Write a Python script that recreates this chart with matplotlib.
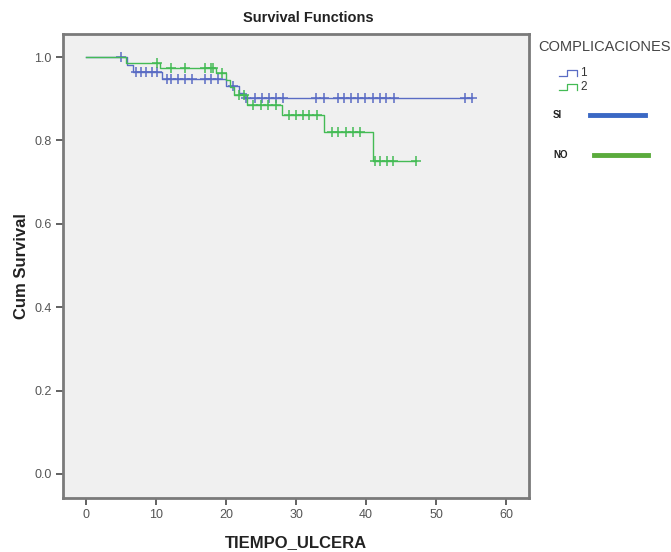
import numpy as np
import matplotlib
matplotlib.use("Agg")
import matplotlib.pyplot as plt
from matplotlib.lines import Line2D

plt.rcParams['font.family'] = ['Liberation Sans', 'DejaVu Sans']

# ---- data ----
blue_event_times = [5.8, 6.7, 10.8, 20.0, 21.8, 22.6]
blue_surv = [0.982, 0.964, 0.947, 0.930, 0.914, 0.901]
blue_censor_times = [5.0, 7.2, 7.9, 8.6, 9.4, 10.1, 11.5, 12.2, 13.2, 14.1, 15.1, 17.0,
                     17.9, 18.9, 21.0, 22.9, 24.1, 25.1, 26.1, 27.1, 28.1, 32.9, 34.0,
                     36.0, 36.9, 37.9, 38.9, 39.9, 41.0, 42.0, 42.9, 44.0, 54.1, 55.1]

green_event_times = [5.7, 10.5, 18.6, 20.0, 20.6, 21.2, 23.0, 28.0, 34.0, 41.0]
green_surv = [0.986, 0.974, 0.961, 0.945, 0.927, 0.909, 0.885, 0.861, 0.819, 0.751]
green_censor_times = [10.1, 12.2, 14.1, 17.0, 17.9, 18.2, 19.4, 21.8, 22.5, 23.8, 25.0,
                      26.0, 27.1, 29.0, 30.0, 31.0, 31.9, 33.0, 35.1, 36.0, 37.1, 38.1,
                      39.1, 41.3, 42.0, 43.0, 43.9, 47.1]

x_ticks = [0, 10, 20, 30, 40, 50, 60]
y_ticks = [0.0, 0.2, 0.4, 0.6, 0.8, 1.0]
legend_title = "COMPLICACIONES"
group_labels = ["1", "2"]
group_names = ["SI", "NO"]

blue_c = '#5a6cc4'
green_c = '#44bb55'


def surv_at(t, times, surv):
    s = 1.0
    for ti, si in zip(times, surv):
        if t >= ti:
            s = si
    return s


fig = plt.figure(figsize=(6.71, 5.52), dpi=100)
fig.patch.set_facecolor('white')
ax = fig.add_axes([63/671, 1-498/552, (529-63)/671, (498-34)/552])
ax.set_facecolor('#f0f0f0')

for times, surv, ctimes, col in [
        (blue_event_times, blue_surv, blue_censor_times, blue_c),
        (green_event_times, green_surv, green_censor_times, green_c)]:
    tmax = max(ctimes)
    xs = [0] + list(times) + [tmax]
    ys = [1.0] + list(surv) + [surv[-1]]
    ax.step(xs, ys, where='post', color=col, lw=1.0)
    cy = [surv_at(t, times, surv) for t in ctimes]
    ax.plot(ctimes, cy, linestyle='none', marker='+', color=col,
            markersize=7, markeredgewidth=1.1)

ax.set_xlim((63-86)/7.0, (529-86)/7.0)
ax.set_ylim((474-498)/417, 1 + (57-34)/417)
ax.set_xticks(x_ticks)
ax.set_yticks(y_ticks)
ax.set_xticklabels([str(v) for v in x_ticks])
ax.set_yticklabels([f"{v:.1f}" for v in y_ticks])
ax.tick_params(axis='both', direction='out', length=5, width=1.3, color='#555555',
               labelsize=9, labelcolor='#555555', pad=3)
for sp in ax.spines.values():
    sp.set_color('#7a7a7a')
    sp.set_linewidth(2.0)

ax.set_xlabel("TIEMPO_ULCERA", fontsize=12, fontweight='bold', color='#222222', labelpad=10)
ax.set_ylabel("Cum Survival", fontsize=12, fontweight='bold', color='#222222', labelpad=4)
fig.text(308/671, 1-18/552, "Survival Functions", ha='center', va='center',
         fontsize=10.5, fontweight='bold', color='#222222')

# ---- legend ----
fig.text(538/671, 1-47/552, legend_title, ha='left', va='center', fontsize=10.5, color='#444444')
for i, (lab, col) in enumerate(zip(group_labels, [blue_c, green_c])):
    yc = 1 - (73 + 14*i)/552
    dy = 3/552
    xs = np.array([559, 567, 567, 577, 577]) / 671
    ys = np.array([yc - dy, yc - dy, yc + dy, yc + dy, yc - dy])
    fig.add_artist(Line2D(xs, ys, color=col, lw=0.9, transform=fig.transFigure))
    fig.text(580/671, yc, lab, ha='left', va='center', fontsize=8.5, color='#333333')

for i, (name, col, x0, x1) in enumerate(zip(group_names, ['#3a68c4', '#5aab3c'],
                                             [590, 594], [645, 648])):
    yc = 1 - (115 + 40*i)/552
    fig.text(553/671, yc, name, ha='left', va='center', fontsize=7,
             fontweight='bold', color='#222222')
    fig.add_artist(Line2D([x0/671, x1/671], [yc, yc], color=col, lw=3.5,
                          transform=fig.transFigure))

fig.savefig("out.png", dpi=100)
